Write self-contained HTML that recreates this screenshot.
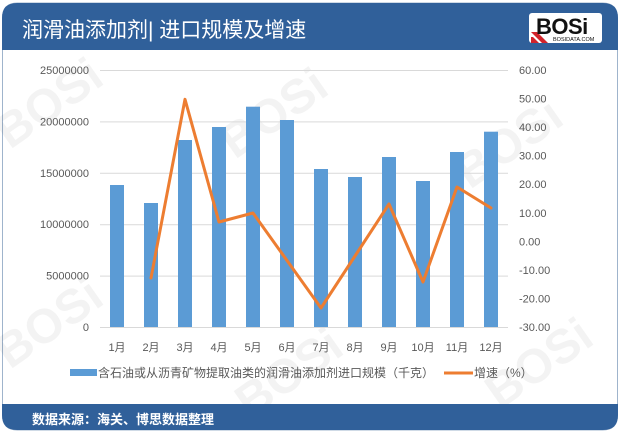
<!DOCTYPE html>
<html><head><meta charset="utf-8">
<style>
html,body{margin:0;padding:0;background:#fff;}
svg{display:block;}
text{font-family:"Liberation Sans","Noto Sans CJK SC",sans-serif;}
</style></head>
<body>
<svg width="620" height="434" viewBox="0 0 620 434" xmlns="http://www.w3.org/2000/svg">
  <!-- card body -->
  <path d="M2.5,18 Q2.5,3 17.5,3 L602.5,3 Q617.5,3 617.5,18 L617.5,415 Q617.5,430 602.5,430 L17.5,430 Q2.5,430 2.5,415 Z" fill="#fff" stroke="#9fb4cc" stroke-width="1"/>
  <!-- header -->
  <path d="M2,18 Q2,3 17,3 L603,3 Q618,3 618,18 L618,50 L2,50 Z" fill="#30609a"/>
  <text x="22" y="37" font-size="21" fill="#fff">润滑油添加剂| 进口规模及增速</text>
  <!-- logo -->
  <rect x="529" y="13" width="73" height="30" rx="3" fill="#fff"/>
  <polygon points="531,32 537,32 548,43 542,43" fill="#d2232a"/>
  <polygon points="531,37 533,37 539,43 531,43" fill="#d2232a"/>
  <text x="536" y="34" font-size="22" font-weight="bold" fill="#111" letter-spacing="-0.5">BOSi</text>
  <text x="553" y="41" font-size="5.5" fill="#111">BOSIDATA.COM</text>

  <!-- faint watermarks -->
  <g fill="#000" opacity="0.05" font-weight="bold">
    <text x="0" y="0" font-size="48" transform="translate(10,150) rotate(-35)">BOSi</text>
    <text x="0" y="0" font-size="48" transform="translate(235,160) rotate(-35)">BOSi</text>
    <text x="0" y="0" font-size="48" transform="translate(470,190) rotate(-35)">BOSi</text>
    <text x="0" y="0" font-size="48" transform="translate(10,370) rotate(-35)">BOSi</text>
    <text x="0" y="0" font-size="48" transform="translate(250,420) rotate(-35)">BOSi</text>
    <text x="0" y="0" font-size="48" transform="translate(500,410) rotate(-35)">BOSi</text>
  </g>

  <!-- gridlines -->
  <g stroke="#d9d9d9" stroke-width="1">
    <line x1="100" y1="70.5" x2="508" y2="70.5"/>
    <line x1="100" y1="121.9" x2="508" y2="121.9"/>
    <line x1="100" y1="173.3" x2="508" y2="173.3"/>
    <line x1="100" y1="224.7" x2="508" y2="224.7"/>
    <line x1="100" y1="276.1" x2="508" y2="276.1"/>
    <line x1="100" y1="327.5" x2="508" y2="327.5"/>
  </g>

  <!-- left axis labels -->
  <g font-size="11" fill="#595959" text-anchor="end">
    <text x="89" y="74">25000000</text>
    <text x="89" y="125.4">20000000</text>
    <text x="89" y="176.8">15000000</text>
    <text x="89" y="228.2">10000000</text>
    <text x="89" y="279.6">5000000</text>
    <text x="89" y="331">0</text>
  </g>
  <!-- right axis labels -->
  <g font-size="11" fill="#595959">
    <text x="519" y="74">60.00</text>
    <text x="519" y="102.6">50.00</text>
    <text x="519" y="131.1">40.00</text>
    <text x="519" y="159.7">30.00</text>
    <text x="519" y="188.2">20.00</text>
    <text x="519" y="216.8">10.00</text>
    <text x="519" y="245.3">0.00</text>
    <text x="519" y="273.9">-10.00</text>
    <text x="519" y="302.4">-20.00</text>
    <text x="519" y="331">-30.00</text>
  </g>

  <!-- bars -->
  <g fill="#5b9bd5">
    <rect x="110" y="185" width="14" height="142"/>
    <rect x="144" y="203" width="14" height="124"/>
    <rect x="178" y="140" width="14" height="187"/>
    <rect x="212" y="127" width="14" height="200"/>
    <rect x="246" y="106.7" width="14" height="220.3"/>
    <rect x="280" y="120" width="14" height="207"/>
    <rect x="314" y="169" width="14" height="158"/>
    <rect x="348" y="177" width="14" height="150"/>
    <rect x="382" y="157" width="14" height="170"/>
    <rect x="416" y="181" width="14" height="146"/>
    <rect x="450" y="152" width="14" height="175"/>
    <rect x="484" y="131.7" width="14" height="195.3"/>
  </g>

  <!-- line -->
  <polyline fill="none" stroke="#ed7d31" stroke-width="3" stroke-linejoin="round" stroke-linecap="round"
    points="151,278 185,99.3 219,222 253,213 287,260.5 321,308 355,256 389,204 423,282 457,187 491,208"/>

  <!-- x labels -->
  <g font-size="11" fill="#595959" text-anchor="middle">
    <text x="117" y="351">1月</text>
    <text x="151" y="351">2月</text>
    <text x="185" y="351">3月</text>
    <text x="219" y="351">4月</text>
    <text x="253" y="351">5月</text>
    <text x="287" y="351">6月</text>
    <text x="321" y="351">7月</text>
    <text x="355" y="351">8月</text>
    <text x="389" y="351">9月</text>
    <text x="423" y="351">10月</text>
    <text x="457" y="351">11月</text>
    <text x="491" y="351">12月</text>
  </g>

  <!-- legend -->
  <rect x="70" y="369" width="27" height="7" fill="#5b9bd5"/>
  <text x="98" y="377" font-size="12" fill="#595959">含石油或从沥青矿物提取油类的润滑油添加剂进口规模（千克）</text>
  <line x1="444" y1="373" x2="473" y2="373" stroke="#ed7d31" stroke-width="3"/>
  <text x="474" y="377" font-size="12" fill="#595959">增速（%）</text>

  <!-- footer -->
  <path d="M2,404 L618,404 L618,415 Q618,430 603,430 L17,430 Q2,430 2,415 Z" fill="#30609a"/>
  <text x="32" y="424" font-size="13" font-weight="bold" fill="#fff">数据来源：海关、博思数据整理</text>
</svg>
</body></html>
